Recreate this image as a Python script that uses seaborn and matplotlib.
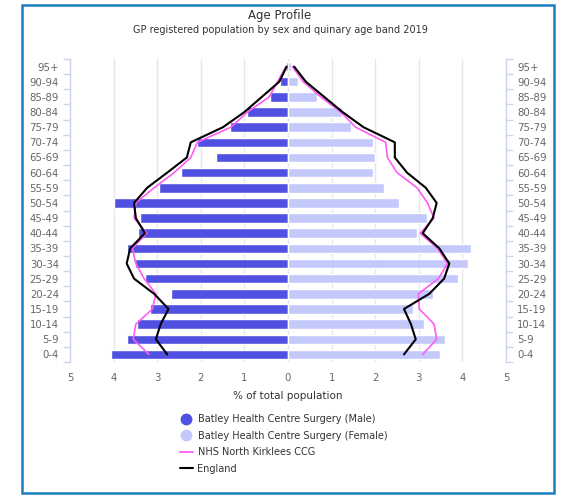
import numpy as np
import pandas as pd
import matplotlib
matplotlib.use("Agg")
import matplotlib.pyplot as plt
from matplotlib.lines import Line2D
from matplotlib.patches import Rectangle
from matplotlib.ticker import FixedLocator, FuncFormatter
import seaborn as sns

# ---- data (top band first) ----
age_bands = ["95+", "90-94", "85-89", "80-84", "75-79", "70-74", "65-69", "60-64",
             "55-59", "50-54", "45-49", "40-44", "35-39", "30-34", "25-29", "20-24",
             "15-19", "10-14", "5-9", "0-4"]
practice_male = [0.05, 0.19, 0.41, 0.93, 1.34, 2.08, 1.65, 2.46, 2.97, 3.98,
                 3.40, 3.44, 3.70, 3.51, 3.29, 2.68, 3.17, 3.46, 3.69, 4.05]
practice_female = [0.08, 0.23, 0.66, 1.23, 1.45, 1.96, 1.99, 1.94, 2.21, 2.54,
                   3.18, 2.95, 4.20, 4.13, 3.90, 3.33, 2.86, 3.12, 3.61, 3.48]
ccg_male = [0.05, 0.24, 0.43, 0.93, 1.31, 2.08, 2.23, 2.61, 3.07, 3.49,
            3.53, 3.24, 3.57, 3.49, 3.30, 3.03, 3.11, 3.49, 3.55, 3.19]
ccg_female = [0.10, 0.35, 0.75, 1.21, 1.55, 2.24, 2.28, 2.50, 2.96, 3.20,
              3.35, 3.03, 3.43, 3.66, 3.45, 2.99, 3.01, 3.35, 3.41, 3.09]
england_male = [0.03, 0.20, 0.60, 1.00, 1.49, 2.23, 2.32, 2.77, 3.23, 3.53,
                3.49, 3.28, 3.62, 3.70, 3.53, 3.07, 2.74, 2.92, 3.03, 2.77]
england_female = [0.14, 0.41, 0.83, 1.25, 1.73, 2.45, 2.45, 2.73, 3.16, 3.41,
                  3.32, 3.09, 3.47, 3.70, 3.58, 3.24, 2.66, 2.82, 2.93, 2.66]
x_ticks = [-5, -4, -3, -2, -1, 0, 1, 2, 3, 4, 5]

title = "Age Profile"
subtitle = "GP registered population by sex and quinary age band 2019"
x_label = "% of total population"
legend_labels = ["Batley Health Centre Surgery (Male)",
                 "Batley Health Centre Surgery (Female)",
                 "NHS North Kirklees CCG", "England"]

df = pd.DataFrame({
    "age": age_bands,
    "pos": np.arange(len(age_bands)),
    "male": -np.array(practice_male),
    "female": np.array(practice_female),
    "ccg_m": -np.array(ccg_male),
    "ccg_f": np.array(ccg_female),
    "eng_m": -np.array(england_male),
    "eng_f": np.array(england_female),
})

sns.set_theme(style="white")
plt.rcParams["font.family"] = ["DejaVu Sans"]

W, H = 565, 496
fig = plt.figure(figsize=(W / 100, H / 100), dpi=100)
ax = fig.add_axes([70 / W, 1 - 362 / H, (506 - 70) / W, (362 - 59) / H])

male_col = "#5151e1"
female_col = "#c4c9fb"
pink = "#ff5cf4"
ax.set_axisbelow(True)
sns.barplot(data=df, x="male", y="age", order=age_bands, color=male_col,
            saturation=1, width=0.63, ax=ax, orient="h")
sns.barplot(data=df, x="female", y="age", order=age_bands, color=female_col,
            saturation=1, width=0.63, ax=ax, orient="h")
for xcol, col, lw in [("ccg_m", pink, 1.2), ("ccg_f", pink, 1.2),
                      ("eng_m", "black", 1.5), ("eng_f", "black", 1.5)]:
    sns.lineplot(data=df, x=xcol, y="pos", sort=False, estimator=None,
                 color=col, lw=lw, ax=ax, legend=False)

ax.set_xlim(-5, 5)
ax.set_ylim(len(age_bands) - 0.5, -0.5)
ax.set_xticks(x_ticks)
ax.xaxis.set_major_formatter(FuncFormatter(lambda v, p: f"{abs(v):g}"))
ax.set_yticks(np.arange(len(age_bands)))
ax.set_yticklabels(age_bands)
ax.yaxis.set_minor_locator(FixedLocator(np.arange(len(age_bands) + 1) - 0.5))
ax.grid(axis="x", color="#e6e6e6", lw=1)
ax.grid(axis="y", visible=False)
for s in ["top", "bottom"]:
    ax.spines[s].set_visible(False)
for s in ["left", "right"]:
    ax.spines[s].set_visible(True)
    ax.spines[s].set_color("#ccd6eb")
    ax.spines[s].set_linewidth(1)
ax.tick_params(axis="y", which="major", length=0, labelsize=7.3,
               labelcolor="#666666", left=False, right=False,
               labelleft=True, labelright=True, pad=8)
ax.tick_params(axis="y", which="minor", length=5, width=1, color="#ccd6eb",
               left=True, right=True)
ax.tick_params(axis="x", length=0, labelsize=7.3, labelcolor="#666666", pad=8)
ax.set_ylabel("")
ax.set_xlabel(x_label, fontsize=7.5, color="#333333", labelpad=6)

fig.text(280 / W, 1 - 16 / H, title, ha="center", va="center", fontsize=8.5,
         color="#333333")
fig.text(280 / W, 1 - 30 / H, subtitle, ha="center", va="center", fontsize=7,
         color="#333333")

handles = [
    Line2D([], [], marker="o", ls="", color=male_col, markersize=7.5),
    Line2D([], [], marker="o", ls="", color=female_col, markersize=7.5),
    Line2D([], [], color=pink, lw=1.3),
    Line2D([], [], color="black", lw=1.5),
]
fig.legend(handles, legend_labels, loc="upper left",
           bbox_to_anchor=(180 / W, 1 - 414 / H), frameon=False, fontsize=7,
           handlelength=1.3, handletextpad=0.5, labelspacing=0.68,
           borderpad=0, borderaxespad=0, labelcolor="#333333")

fig.patches.append(Rectangle((22 / W, 1 - 493 / H), 532 / W, 488 / H,
                             transform=fig.transFigure, fill=False,
                             edgecolor="#1b7cc0", lw=1.8))

fig.savefig("out.png", dpi=100)
